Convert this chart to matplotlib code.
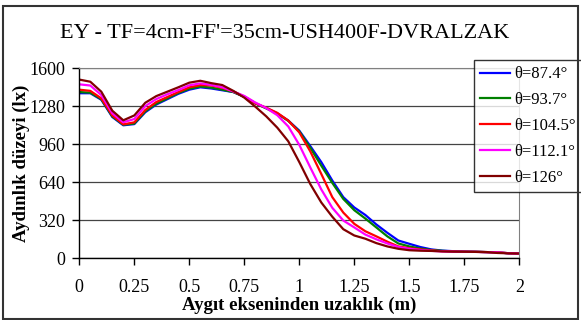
import matplotlib
matplotlib.use("Agg")
import matplotlib.pyplot as plt
import numpy as np
from matplotlib.patches import Rectangle

plt.rcParams['font.family'] = ['Liberation Serif', 'DejaVu Serif']

# distance from the lamp axis (m)
dist = np.round(np.arange(0, 2.0001, 0.05), 2)

theta_874 = [1390, 1390, 1335, 1190, 1120, 1130, 1230, 1295, 1340, 1385, 1420,
             1440, 1430, 1415, 1400, 1360, 1305, 1265, 1220, 1160, 1075,
             945, 810, 655, 515, 428, 365, 285, 215, 150, 122,
             95, 75, 65, 60, 57, 55, 52, 50, 42, 40]
theta_937 = [1400, 1395, 1340, 1195, 1125, 1135, 1238, 1302, 1347, 1392, 1428,
             1447, 1437, 1420, 1400, 1360, 1305, 1262, 1218, 1157, 1068,
             930, 780, 635, 500, 405, 335, 260, 185, 125, 100,
             82, 70, 63, 58, 56, 55, 52, 50, 43, 40]
theta_1045 = [1420, 1410, 1347, 1204, 1128, 1145, 1249, 1316, 1358, 1400, 1440,
              1459, 1455, 1435, 1405, 1362, 1305, 1268, 1225, 1160, 1060,
              900, 710, 515, 385, 290, 228, 185, 140, 100, 85,
              75, 66, 60, 57, 55, 54, 52, 50, 43, 40]
theta_1121 = [1465, 1455, 1375, 1221, 1145, 1173, 1282, 1341, 1381, 1417, 1457,
              1473, 1460, 1440, 1405, 1367, 1312, 1265, 1205, 1110, 955,
              765, 580, 425, 318, 260, 200, 160, 125, 95, 80,
              70, 63, 58, 56, 55, 54, 52, 50, 43, 40]
theta_126 = [1505, 1487, 1403, 1243, 1162, 1203, 1310, 1366, 1403, 1440, 1479,
             1495, 1475, 1459, 1410, 1353, 1277, 1195, 1100, 985, 810,
             625, 470, 350, 245, 192, 165, 128, 100, 80, 68,
             64, 62, 58, 56, 55, 54, 53, 45, 42, 40]

series = [
    (theta_874, "θ=87.4°", "#0000FF"),
    (theta_937, "θ=93.7°", "#008000"),
    (theta_1045, "θ=104.5°", "#FF0000"),
    (theta_1121, "θ=112.1°", "#FF00FF"),
    (theta_126, "θ=126°", "#800000"),
]

xticks = [0, 0.25, 0.5, 0.75, 1, 1.25, 1.5, 1.75, 2]
xtick_labels = ["0", "0.25", "0.5", "0.75", "1", "1.25", "1.5", "1.75", "2"]
yticks = [0, 320, 640, 960, 1280, 1600]

fig = plt.figure(figsize=(5.81, 3.2), dpi=100)
ax = fig.add_axes([79.3 / 581, 1 - 258.3 / 320, 440 / 581, 190 / 320])

for vals, lab, col in series:
    ax.plot(dist, vals, color=col, lw=1.6, label=lab)

ax.set_xlim(0, 2)
ax.set_ylim(0, 1600)
ax.set_xticks(xticks)
ax.set_xticklabels(xtick_labels)
ax.set_yticks(yticks)
ax.tick_params(axis='x', direction='out', length=5, width=1, pad=10, labelsize=13)
ax.tick_params(axis='y', direction='out', length=5, width=1, pad=5, labelsize=13)

ax.grid(axis='y', color='#444444', lw=0.9)
ax.set_axisbelow(True)
for s in ['top', 'right']:
    ax.spines[s].set_color('#808080')
for s in ['left', 'bottom']:
    ax.spines[s].set_color('black')
    ax.spines[s].set_linewidth(1.0)

ax.set_xlabel("Aygıt ekseninden uzaklık (m)", fontsize=13.5, fontweight='bold', labelpad=0.5)
ax.set_ylabel("Aydınlık düzeyi (lx)", fontsize=13.5, fontweight='bold', labelpad=0)

fig.text(285 / 581, 1 - 33 / 320, "EY - TF=4cm-FF'=35cm-USH400F-DVRALZAK",
         ha='center', va='center', fontsize=16)

leg = ax.legend(loc='upper left', bbox_to_anchor=(474 / 581, 1 - 60 / 320),
                bbox_transform=fig.transFigure, borderaxespad=0, fontsize=12,
                frameon=True, fancybox=False, labelspacing=0.59,
                handlelength=1.75, handletextpad=0.3, borderpad=0.38)
leg.get_frame().set_edgecolor('black')
leg.get_frame().set_linewidth(1.0)

fig.patches.append(Rectangle((3 / 581, 1 / 320), 575 / 581, 313 / 320,
                             transform=fig.transFigure, fill=False,
                             edgecolor='#333333', lw=1.5))

fig.savefig("out.png", dpi=100)
